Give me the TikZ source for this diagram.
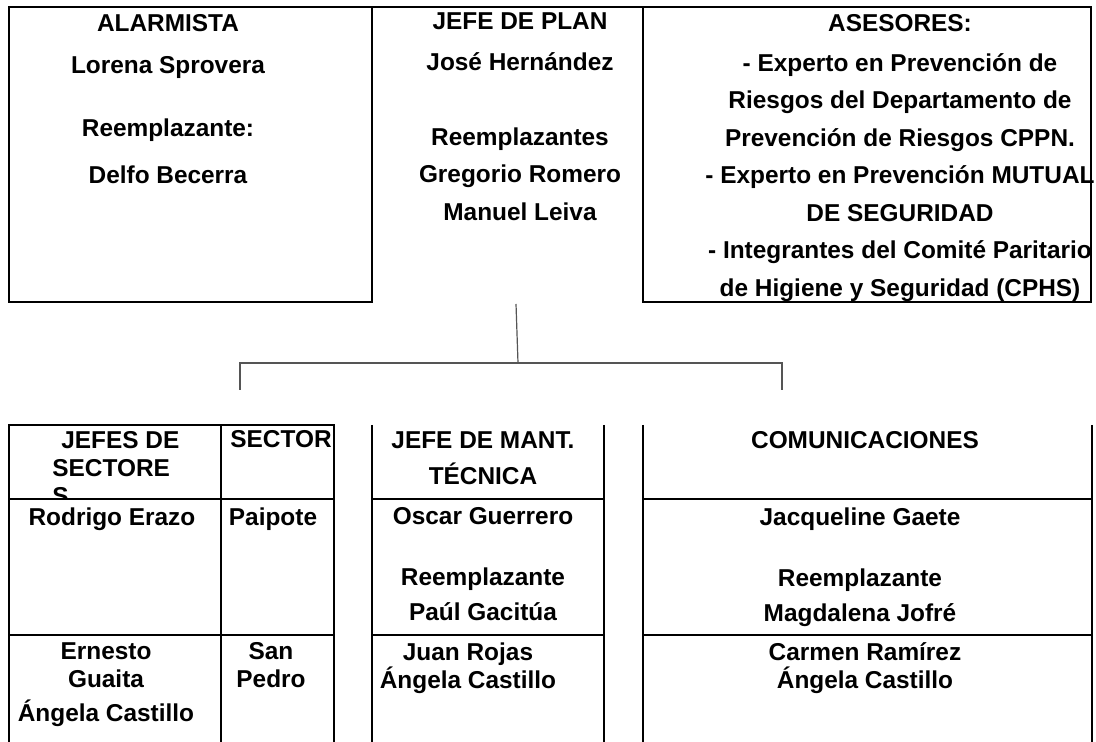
\documentclass[tikz,border=0pt]{standalone}
\usepackage{fontspec}
\setmainfont{Liberation Sans}
\usepackage{tikz}
\usetikzlibrary{calc}
\definecolor{linkgray}{HTML}{555555}

\begin{document}
\begin{tikzpicture}[
  x=0.5pt, y=-0.5pt,
  cell/.style={anchor=north, align=center, inner sep=0pt,
               font=\bfseries\fontsize{12.2}{18.75}\selectfont},
  celltight/.style={cell, font=\bfseries\fontsize{12.2}{14}\selectfont},
  rule/.style={line width=0.6pt, black},
  link/.style={line width=0.6pt, linkgray},
]
  \useasboundingbox (0,0) rectangle (1096,742);

  %% Top row — Alarmista / Jefe de plan / Asesores
  \draw[rule] (9,7) rectangle (372,302);
  \draw[rule] (643,7) rectangle (1091,302);
  \draw[rule] (372,7) -- (643,7);

  \node[cell] (alarm) at (168,14) {ALARMISTA\\[2.25pt]Lorena Sprovera\\[12.75pt]Reemplazante:\\[4.75pt]Delfo Becerra};
  \node[cell] (plan) at (520,12) {JEFE DE PLAN\\[1.75pt]José Hernández\\[18.75pt]Reemplazantes\\Gregorio Romero\\Manuel Leiva};
  \node[cell] (asesor) at (900,14) {ASESORES:\\[1.25pt]- Experto en Prevención de\\Riesgos del Departamento de\\Prevención de Riesgos CPPN.\\- Experto en Prevención MUTUAL\\DE SEGURIDAD\\- Integrantes del Comité Paritario\\de Higiene y Seguridad (CPHS)};

  %% Connector — plan down to the sector row
  \coordinate (plan-foot) at (516,304);
  \coordinate (bus-mid) at (518,363);
  \coordinate (bus-left) at (240,363);
  \coordinate (bus-right) at (782,363);
  \coordinate (drop-left) at (240,390);
  \coordinate (drop-right) at (782,390);
  \draw[link] (plan-foot) -- (bus-mid);
  \draw[link] (drop-left) -- (bus-left) -- (bus-right) -- (drop-right);

  %% Bottom row — Jefes de sectores
  \draw[rule] (9,742) -- (9,425) -- (334,425) -- (334,742);
  \draw[rule] (221,425) -- (221,742);
  \draw[rule] (9,499) -- (334,499);
  \draw[rule] (9,635) -- (334,635);
  \begin{scope}
    \clip (9,425) rectangle (221,499);
    \node[celltight, anchor=north west, align=left] (jefsec) at (52,431) {\hspace*{4.5pt}JEFES DE\\SECTORE\\S};
  \end{scope}
  \node[celltight, anchor=north west] (sector) at (230,430) {SECTOR};
  \node[celltight] (rodrigo) at (112,507) {Rodrigo Erazo};
  \node[celltight] (paipote) at (273,507) {Paipote};
  \node[celltight] (ernesto) at (106,642) {Ernesto\\Guaita\\[3pt]Ángela Castillo};
  \node[celltight] (sanpedro) at (271,642) {San\\Pedro};

  %% Bottom row — Jefe de mant. técnica
  \draw[rule] (372,425) -- (372,742);
  \draw[rule] (604,425) -- (604,742);
  \draw[rule] (372,499) -- (604,499);
  \draw[rule] (372,635) -- (604,635);
  \node[celltight] (mant) at (483,431) {JEFE DE MANT.\\[4pt]TÉCNICA};
  \node[celltight] (oscar) at (483,507) {Oscar Guerrero\\[16.5pt]Reemplazante\\[3.5pt]Paúl Gacitúa};
  \node[celltight] (juan) at (468,642) {Juan Rojas\\Ángela Castillo};

  %% Bottom row — Comunicaciones
  \draw[rule] (643,425) -- (643,742);
  \draw[rule] (1092,425) -- (1092,742);
  \draw[rule] (643,499) -- (1092,499);
  \draw[rule] (643,635) -- (1092,635);
  \node[celltight] (comunic) at (865,431) {COMUNICACIONES};
  \node[celltight] (jacq) at (860,507) {Jacqueline Gaete\\[16.5pt]Reemplazante\\[3.5pt]Magdalena Jofré};
  \node[celltight] (carmen) at (865,642) {Carmen Ramírez\\Ángela Castillo};

\end{tikzpicture}
\end{document}
